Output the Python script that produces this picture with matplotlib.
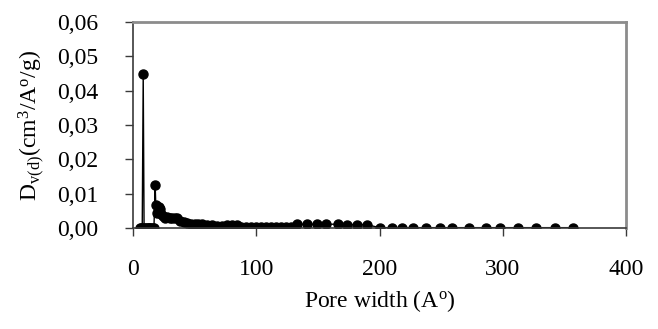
import matplotlib

matplotlib.use("Agg")
import matplotlib.pyplot as plt
from matplotlib.ticker import FuncFormatter

plt.rcParams.update(
    {
        "font.family": "serif",
        "font.serif": ["Liberation Serif", "DejaVu Serif"],
        "mathtext.fontset": "custom",
        "mathtext.rm": "Liberation Serif",
        "mathtext.it": "Liberation Serif:italic",
        "font.size": 17,
    }
)

# pore width (A) and differential pore volume (cm3/A/g)
pore_width = [
    5.5, 6.5, 7.5, 8.3, 9, 10, 11, 12, 13, 14, 15, 16, 17,
    18, 18.5, 19.5, 21, 22, 23, 24.5, 26, 28, 30, 32, 34, 36, 38,
    41, 44, 47, 50, 53, 56, 60, 64, 68, 72, 76, 80, 84,
    88, 92, 96, 100, 104, 108, 112, 116, 120, 124, 128,
    132.7, 140.8, 148.9, 157, 166.5, 173.3, 181.4, 189.5,
    200, 210, 218, 227, 238, 249, 259, 273, 286, 298, 312, 327, 342, 357,
]
dv = [
    0.0, 0.0, 0.0, 0.045, 0.0, 0.0, 0.0, 0.0, 0.0, 0.0, 0.0, 0.0, 0.0,
    0.0125, 0.0067, 0.0045, 0.0062, 0.0055, 0.004, 0.0035, 0.003, 0.0033,
    0.0028, 0.003, 0.003, 0.0028, 0.002,
    0.0018, 0.0015, 0.0013, 0.0012, 0.0012, 0.0011, 0.001, 0.0009,
    0.0005, 0.0006, 0.0009, 0.001, 0.001,
    0.0003, 0.0003, 0.0003, 0.0002, 0.0002, 0.0002, 0.0002, 0.0002, 0.0003,
    0.0003, 0.0004,
    0.0011, 0.0011, 0.0011, 0.0011, 0.0011, 0.001, 0.001, 0.001,
    0.0001, 0.0001, 0.0001, 0.0001, 0.0001, 0.0001, 0.0001, 0.0001, 0.0001,
    0.0001, 0.0001, 0.0001, 0.0001, 0.0001,
]
x_ticks = [0, 100, 200, 300, 400]
y_ticks = [0.0, 0.01, 0.02, 0.03, 0.04, 0.05, 0.06]

fig = plt.figure(figsize=(6.58, 3.29), dpi=100)
ax = fig.add_axes([0.2021, 0.307, 0.7493, 0.626])

ax.plot(pore_width, dv, color="black", linewidth=1.0, marker="o",
        markersize=6.5, markerfacecolor="black", markeredgecolor="black")

ax.set_xlim(0, 400)
ax.set_ylim(0, 0.06)
ax.set_xticks(x_ticks)
ax.set_yticks(y_ticks)
ax.yaxis.set_major_formatter(FuncFormatter(lambda v, _: f"{v:.2f}".replace(".", ",")))

for side in ("left", "bottom"):
    ax.spines[side].set_color("#3a3a3a")
    ax.spines[side].set_linewidth(1.2)
for side in ("top", "right"):
    ax.spines[side].set_color("#8c8c8c")
    ax.spines[side].set_linewidth(2.0)

ax.tick_params(direction="out", length=6, width=1.0, color="#3a3a3a")
ax.tick_params(axis="y", pad=19)
ax.tick_params(axis="x", pad=16)

ax.set_xlabel("Pore width (A$^{\\mathrm{o}}$)")
ax.xaxis.set_label_coords(0.5, -0.29)
ax.set_ylabel(r"D$_{\mathrm{v(d)}}$(cm$^3$/A$^{\mathrm{o}}$/g)")
ax.yaxis.set_label_coords(-0.175, 0.5)

fig.savefig("out.png", dpi=100)
